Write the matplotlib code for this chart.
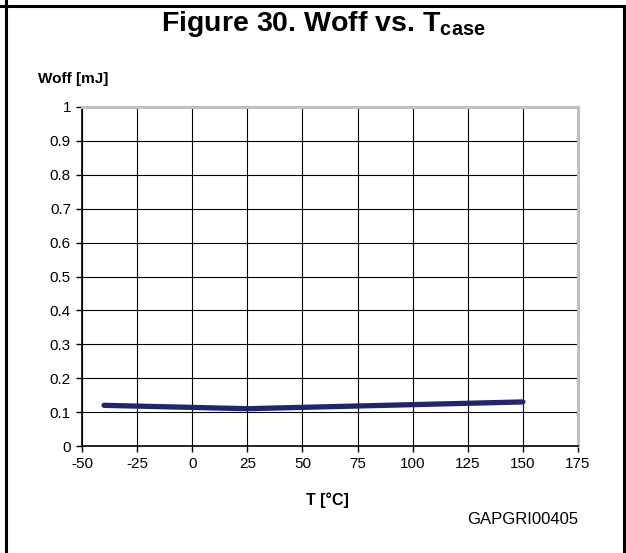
import matplotlib
matplotlib.use("Agg")
import matplotlib.pyplot as plt
from matplotlib.lines import Line2D

plt.rcParams['font.family'] = ['Liberation Sans', 'DejaVu Sans']
plt.rcParams['mathtext.fontset'] = 'custom'
plt.rcParams['mathtext.rm'] = 'Liberation Sans'
plt.rcParams['mathtext.bf'] = 'Liberation Sans:bold'

# Woff vs case temperature
T = [-40, 25, 150]
Woff = [0.12, 0.11, 0.13]

xticks = [-50, -25, 0, 25, 50, 75, 100, 125, 150, 175]
yticks = [0, 0.1, 0.2, 0.3, 0.4, 0.5, 0.6, 0.7, 0.8, 0.9, 1]
ylabels = ["0", "0.1", "0.2", "0.3", "0.4", "0.5", "0.6", "0.7", "0.8", "0.9", "1"]

W, H = 626, 553
fig = plt.figure(figsize=(W / 100, H / 100), dpi=100)

# outer frame (left, top, right)
fig.add_artist(Line2D([5.5 / W, 5.5 / W], [0, 1], color="black", lw=2.2))
fig.add_artist(Line2D([0, 1], [1 - 5.5 / H, 1 - 5.5 / H], color="black", lw=2.2))
fig.add_artist(Line2D([623.5 / W, 623.5 / W], [0, 1 - 5.5 / H], color="black", lw=2.2))

fig.text(323 / W, 1 - 31 / H, "Figure 30. Woff vs. T$_\\mathbf{case}$", ha="center",
         va="baseline", fontsize=20.5, fontweight="bold")

left, right, top, bottom = 82, 578, 107, 446
ax = fig.add_axes([left / W, 1 - bottom / H, (right - left) / W, (bottom - top) / H])

ax.plot(T, Woff, color="#1f2670", lw=3.8, solid_capstyle="round", zorder=3)

ax.set_xlim(-50, 175)
ax.set_ylim(0, 1)
ax.set_xticks(xticks)
ax.set_xticklabels([str(x) for x in xticks])
ax.set_yticks(yticks)
ax.set_yticklabels(ylabels)
ax.grid(True, color="black", lw=0.8)
ax.set_axisbelow(True)

ax.spines["left"].set_color("black")
ax.spines["bottom"].set_color("black")
ax.spines["left"].set_linewidth(1.2)
ax.spines["bottom"].set_linewidth(1.2)
ax.spines["top"].set_color("#c0c0c0")
ax.spines["right"].set_color("#c0c0c0")
ax.spines["top"].set_linewidth(2.2)
ax.spines["right"].set_linewidth(2.2)
ax.tick_params(direction="out", length=4, width=1, labelsize=11, pad=4)

fig.text(38 / W, 1 - 83 / H, "Woff [mJ]", fontsize=11, fontweight="bold", va="baseline")
fig.text(327 / W, 1 - 505 / H, "T [°C]", fontsize=11.5, fontweight="bold", ha="center", va="baseline")
fig.text(578 / W, 1 - 524 / H, "GAPGRI00405", fontsize=12, ha="right", va="baseline")

fig.savefig("out.png", dpi=100)
